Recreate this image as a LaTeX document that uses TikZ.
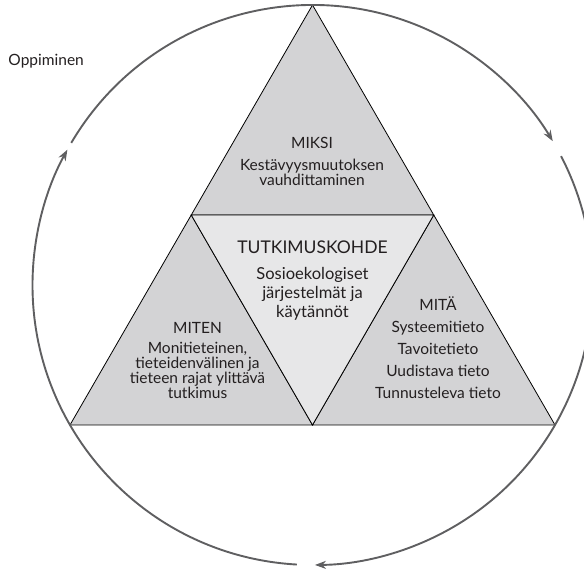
\documentclass[tikz,border=0pt]{standalone}
\usepackage{fontspec}
\setmainfont{Lato}
\usetikzlibrary{arrows.meta}
\definecolor{sidegray}{RGB}{211,211,213}
\definecolor{coregray}{RGB}{231,231,232}
\definecolor{ringgray}{RGB}{95,95,97}
\definecolor{inkgray}{RGB}{35,31,32}

\begin{document}
\begin{tikzpicture}[x=1pt,y=1pt,
    part/.style={draw=black,line width=0.8pt,line join=miter},
    ring/.style={draw=ringgray,line width=1.9pt,-{Stealth[length=11pt,width=8pt]}},
    head/.style={text=inkgray,font=\fontsize{15.5}{15.5}\selectfont,anchor=base,inner sep=0pt},
    body/.style={text=inkgray,font=\fontsize{15.5}{14.5}\selectfont,anchor=base,align=center,inner sep=0pt}]
    \useasboundingbox (0,0) rectangle (584,569);

    \coordinate (top) at (312.5,564);
    \coordinate (bl) at (70,144);
    \coordinate (br) at (555,144);
    \coordinate (ml) at (191.25,354);
    \coordinate (mr) at (433.75,354);
    \coordinate (mb) at (312.5,144);
    \coordinate (c) at (312.5,284);

    \draw[part,fill=sidegray] (top) -- (mr) -- (ml) -- cycle;
    \draw[part,fill=sidegray] (ml) -- (mb) -- (bl) -- cycle;
    \draw[part,fill=sidegray] (mr) -- (br) -- (mb) -- cycle;
    \draw[part,fill=coregray] (ml) -- (mr) -- (mb) -- cycle;

    \draw[ring] ([shift={(149.5:280)}]c) arc[start angle=149.5,end angle=30.9,radius=280];
    \draw[ring] ([shift={(27.4:280)}]c) arc[start angle=27.4,end angle=-89.5,radius=280];
    \draw[ring] ([shift={(-93.2:280)}]c) arc[start angle=-93.2,end angle=-208.9,radius=280];

    \node[head,anchor=base west] (learn) at (8.3,503.3) {Oppiminen};

    % body nodes sit on the baseline of their last line
    \node[head] (why) at (312,420.7) {MIKSI};
    \node[body] (whytext) at (312,383.8) {Kestävyysmuutoksen\\vauhdittaminen};

    \node[head,font=\fontsize{17.5}{17.5}\selectfont] (core) at (312.5,315) {TUTKIMUSKOHDE};
    \node[body,font=\fontsize{16.5}{18.7}\selectfont] (coretext) at (312.5,251.6) {Sosioekologiset\\järjestelmät ja\\käytännöt};

    \node[head] (how) at (197.5,235) {MITEN};
    \node[body,font=\fontsize{15.5}{14.8}\selectfont] (howtext) at (197.5,170.6) {Monitieteinen,\\tieteidenvälinen ja\\tieteen rajat ylittävä\\tutkimus};

    \node[head] (what) at (438,258) {MITÄ};
    \node[body,font=\fontsize{15.5}{22}\selectfont] (whattext) at (438,170.5) {Systeemitieto\\Tavoitetieto\\Uudistava tieto\\Tunnusteleva tieto};
\end{tikzpicture}
\end{document}
